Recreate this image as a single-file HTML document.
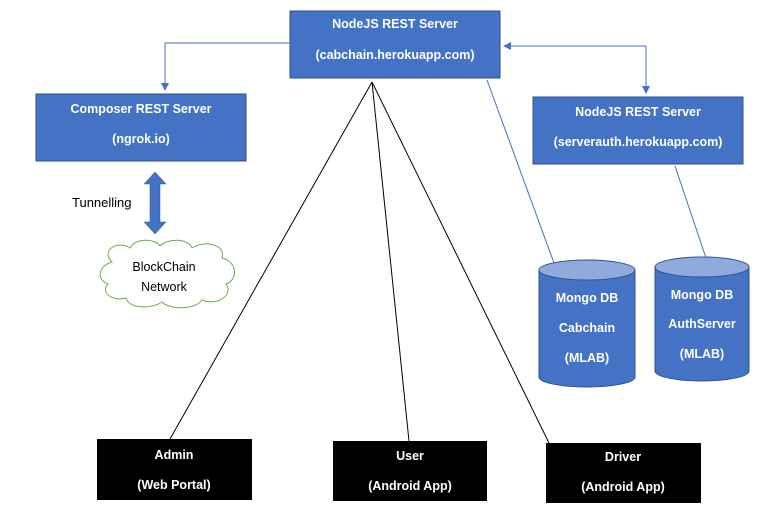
<!DOCTYPE html>
<html><head><meta charset="utf-8"><style>
body{margin:0;background:#fff;}
svg{display:block;font-family:"Liberation Sans",sans-serif;}
.w{fill:#fff;font-weight:bold;font-size:12.5px;text-anchor:middle;}
</style></head><body>
<svg width="773" height="510" viewBox="0 0 773 510">
<defs>
<marker id="a" markerWidth="8" markerHeight="8" refX="7" refY="4" orient="auto" markerUnits="userSpaceOnUse"><path d="M0,0 L8,4 L0,8z" fill="#4472c4"/></marker>
</defs>
<polyline points="290,43 165,43 165,90" fill="none" stroke="#4472c4" stroke-width="1" marker-end="url(#a)"/>
<line x1="646" y1="46" x2="504" y2="46" stroke="#4472c4" marker-end="url(#a)"/>
<line x1="646" y1="46" x2="646" y2="93" stroke="#4472c4" marker-end="url(#a)"/>
<line x1="487" y1="80" x2="554" y2="263" stroke="#4472c4"/>
<line x1="675" y1="166" x2="706" y2="258" stroke="#4472c4"/>
<line x1="372" y1="82" x2="170" y2="439" stroke="#000"/>
<line x1="372" y1="82" x2="409" y2="441" stroke="#000"/>
<line x1="372" y1="82" x2="549" y2="443" stroke="#000"/>
<rect x="290" y="11" width="210" height="67" fill="#4472c4" stroke="#2f528f"/>
<text class="w" x="395" y="28">NodeJS REST Server</text>
<text class="w" x="395" y="59">(cabchain.herokuapp.com)</text>
<rect x="36" y="94" width="210" height="67" fill="#4472c4" stroke="#2f528f"/>
<text class="w" x="141" y="113">Composer REST Server</text>
<text class="w" x="141" y="143">(ngrok.io)</text>
<rect x="533" y="97" width="210" height="67" fill="#4472c4" stroke="#2f528f"/>
<text class="w" x="638" y="116">NodeJS REST Server</text>
<text class="w" x="638" y="146">(serverauth.herokuapp.com)</text>
<path d="M155,172 L166,184 L160,184 L160,222 L166,222 L155,234 L144,222 L150,222 L150,184 L144,184z" fill="#4472c4" stroke="#2f528f" stroke-width="0.5"/>
<text x="72" y="207" font-size="13">Tunnelling</text>
<path d="M112,262 C100,250 118,240 130,248 C135,238 155,238 160,246 C168,238 188,238 192,248 C204,240 226,244 222,258 C238,262 238,280 226,284 C234,296 216,306 202,300 C195,310 170,310 162,302 C150,310 128,308 126,298 C112,302 100,292 108,284 C96,280 98,266 112,262z" fill="#fff" stroke="#70ad47" stroke-width="1"/>
<text x="164" y="271" font-size="12.5" text-anchor="middle">BlockChain</text>
<text x="164" y="291" font-size="12.5" text-anchor="middle">Network</text>
<path d="M539,270 L539,377 A48,10 0 0 0 635,377 L635,270z" fill="#4472c4" stroke="#2f528f"/>
<ellipse cx="587" cy="270" rx="48" ry="10" fill="#8faadc" stroke="#2f528f"/>
<text class="w" x="587" y="302">Mongo DB</text>
<text class="w" x="587" y="332">Cabchain</text>
<text class="w" x="587" y="362">(MLAB)</text>
<path d="M655,267 L655,371 A47,10 0 0 0 749,371 L749,267z" fill="#4472c4" stroke="#2f528f"/>
<ellipse cx="702" cy="267" rx="47" ry="10" fill="#8faadc" stroke="#2f528f"/>
<text class="w" x="702" y="299">Mongo DB</text>
<text class="w" x="702" y="328">AuthServer</text>
<text class="w" x="702" y="358">(MLAB)</text>
<rect x="97" y="439" width="155" height="61" fill="#000"/>
<text class="w" x="174" y="459">Admin</text>
<text class="w" x="174" y="489">(Web Portal)</text>
<rect x="333" y="441" width="154" height="60" fill="#000"/>
<text class="w" x="410" y="460">User</text>
<text class="w" x="410" y="490">(Android App)</text>
<rect x="546" y="443" width="155" height="60" fill="#000"/>
<text class="w" x="623" y="461">Driver</text>
<text class="w" x="623" y="491">(Android App)</text>
</svg>
</body></html>
